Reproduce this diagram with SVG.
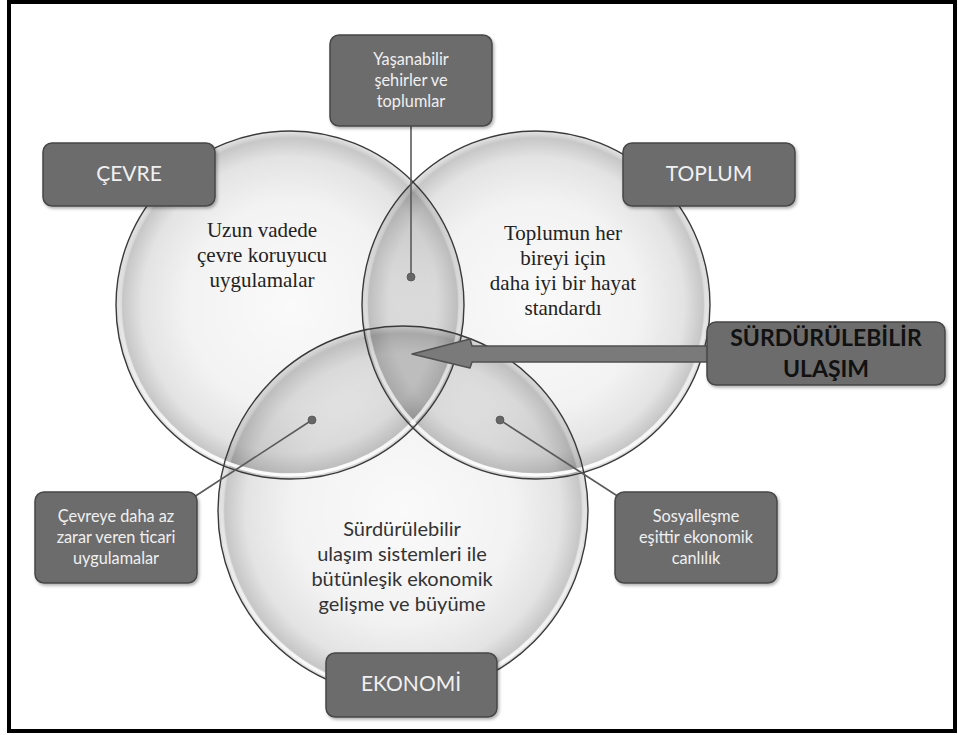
<svg xmlns="http://www.w3.org/2000/svg" width="958" height="735" viewBox="0 0 958 735">
<defs>
<radialGradient id="shade" cx="50%" cy="50%" r="50%">
<stop offset="0%" stop-color="#000" stop-opacity="0.02"/>
<stop offset="60%" stop-color="#000" stop-opacity="0.05"/>
<stop offset="85%" stop-color="#000" stop-opacity="0.11"/>
<stop offset="96%" stop-color="#000" stop-opacity="0.22"/>
<stop offset="100%" stop-color="#000" stop-opacity="0.1"/>
</radialGradient>
<linearGradient id="rim" x1="0" y1="0" x2="0" y2="1">
<stop offset="0%" stop-color="#fff" stop-opacity="0"/>
<stop offset="45%" stop-color="#fff" stop-opacity="0.25"/>
<stop offset="100%" stop-color="#fff" stop-opacity="0.95"/>
</linearGradient>
<filter id="sh" x="-10%" y="-10%" width="130%" height="130%">
<feDropShadow dx="1.5" dy="2" stdDeviation="1.5" flood-color="#000" flood-opacity="0.3"/>
</filter>
</defs>
<style>
.disk{fill:url(#shade);}
.outline{fill:none;stroke:#3a3a3a;stroke-width:1.4;}
.rim{fill:none;stroke:url(#rim);stroke-width:3.5;}
.box{fill:#6c6c6c;stroke:#474747;stroke-width:1.5;filter:url(#sh);}
.bt{font-family:Lato,"Liberation Sans",sans-serif;fill:#f0f0f0;text-anchor:middle;}
.small{font-size:16.3px;}
.big{font-size:21px;}
.head{font-size:23px;font-weight:bold;fill:#111;}
.serif{font-family:"Liberation Serif",serif;font-size:21px;fill:#222;text-anchor:middle;}
.sans{font-family:Lato,"Liberation Sans",sans-serif;font-size:20px;fill:#333;text-anchor:middle;}
.lead{stroke:#5a5a5a;stroke-width:1.6;fill:none;}
.dot{fill:#666;stroke:#555;stroke-width:0.8;}
</style>
<rect x="0" y="0" width="958" height="735" fill="#fff"/>
<rect x="9" y="2" width="946" height="729" fill="none" stroke="#000" stroke-width="4"/>

<g id="circle-cevre">
<circle class="disk" cx="290" cy="305" r="174"/>
</g>
<g id="circle-toplum">
<circle class="disk" cx="536" cy="305" r="174"/>
</g>
<g id="circle-ekonomi">
<circle class="disk" cx="403" cy="511" r="185"/>
</g>
<g id="circle-rims">
<circle class="rim" cx="290" cy="305" r="170"/>
<circle class="rim" cx="536" cy="305" r="170"/>
<circle class="rim" cx="403" cy="511" r="181"/>
<circle class="outline" cx="290" cy="305" r="174"/>
<circle class="outline" cx="536" cy="305" r="174"/>
<circle class="outline" cx="403" cy="511" r="185"/>
</g>

<g id="circle-texts">
<text class="serif" x="262" y="237">Uzun vadede</text>
<text class="serif" x="262" y="262">çevre koruyucu</text>
<text class="serif" x="262" y="287">uygulamalar</text>
<text class="serif" x="563" y="240">Toplumun her</text>
<text class="serif" x="563" y="265">bireyi için</text>
<text class="serif" x="563" y="290">daha iyi bir hayat</text>
<text class="serif" x="563" y="315">standardı</text>
<text class="sans" x="402" y="536">Sürdürülebilir</text>
<text class="sans" x="402" y="561">ulaşım sistemleri ile</text>
<text class="sans" x="402" y="586">bütünleşik ekonomik</text>
<text class="sans" x="402" y="611">gelişme ve büyüme</text>
</g>

<g id="connectors">
<line class="lead" x1="411" y1="126" x2="411" y2="277"/>
<circle class="dot" cx="411" cy="277" r="4"/>
<line class="lead" x1="194" y1="497" x2="312" y2="420"/>
<circle class="dot" cx="312" cy="420" r="4"/>
<line class="lead" x1="500" y1="420" x2="619" y2="497"/>
<circle class="dot" cx="500" cy="420" r="4"/>
<polygon id="arrow" points="708,346 472,346 470,339 412,354 470,368 472,362 708,362" fill="#7a7a7a" stroke="#505050" stroke-width="1.5" stroke-linejoin="round"/>
</g>

<g id="node-yasanabilir">
<rect class="box" x="330" y="35" width="162" height="91" rx="9"/>
<text class="bt small" x="411" y="65">Yaşanabilir</text>
<text class="bt small" x="411" y="86">şehirler ve</text>
<text class="bt small" x="411" y="107">toplumlar</text>
</g>
<g id="node-cevre">
<rect class="box" x="43" y="143" width="172" height="63" rx="9"/>
<text class="bt big" x="129" y="181">ÇEVRE</text>
</g>
<g id="node-toplum">
<rect class="box" x="623" y="143" width="172" height="63" rx="9"/>
<text class="bt big" x="709" y="181">TOPLUM</text>
</g>
<g id="node-surdurulebilir">
<rect class="box" x="707" y="322" width="238" height="63" rx="9"/>
<text class="bt head" x="826" y="346">SÜRDÜRÜLEBİLİR</text>
<text class="bt head" x="826" y="377">ULAŞIM</text>
</g>
<g id="node-cevreye">
<rect class="box" x="35" y="492" width="162" height="91" rx="9"/>
<text class="bt small" x="116" y="522">Çevreye daha az</text>
<text class="bt small" x="116" y="543">zarar veren ticari</text>
<text class="bt small" x="116" y="564">uygulamalar</text>
</g>
<g id="node-sosyallesme">
<rect class="box" x="615" y="492" width="162" height="91" rx="9"/>
<text class="bt small" x="696" y="522">Sosyalleşme</text>
<text class="bt small" x="696" y="543">eşittir ekonomik</text>
<text class="bt small" x="696" y="564">canlılık</text>
</g>
<g id="node-ekonomi">
<rect class="box" x="326" y="653" width="171" height="64" rx="9"/>
<text class="bt big" x="411" y="691">EKONOMİ</text>
</g>
</svg>
